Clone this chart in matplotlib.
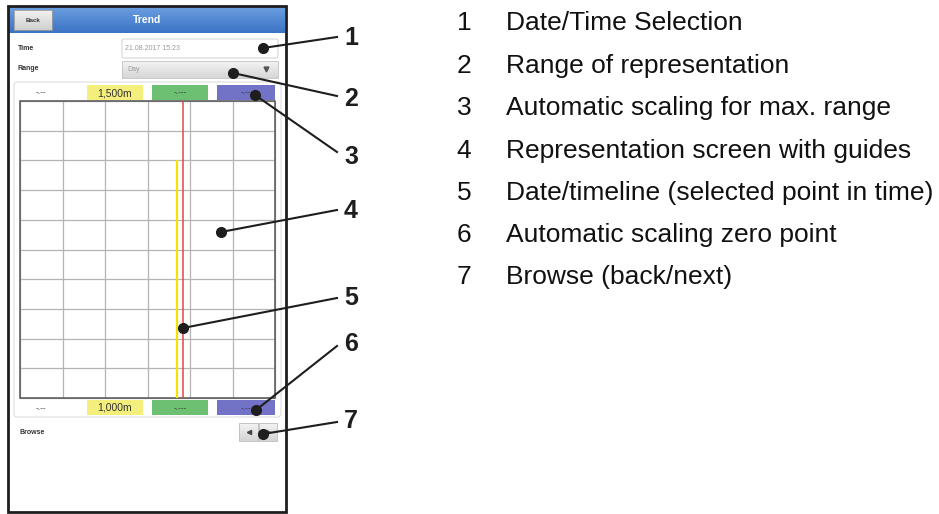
import numpy as np
import matplotlib.pyplot as plt
from matplotlib.patches import Rectangle, FancyBboxPatch

plt.rcParams['font.family'] = ['Liberation Sans', 'DejaVu Sans']

### DATA ###
legend_nums = ['1', '2', '3', '4', '5', '6', '7']
legend_text = ['Date/Time Selection',
               'Range of representation',
               'Automatic scaling for max. range',
               'Representation screen with guides',
               'Date/timeline (selected point in time)',
               'Automatic scaling zero point',
               'Browse (back/next)']
top_scale = ['-.--', '1,500m', '-.---', '-.--']
bottom_scale = ['-.--', '1,000m', '-.---', '-.--']
scale_colors = ['white', '#f4ee7c', '#6dbf72', '#7272c6']
time_value = '21.08.2017 15:23'
range_value = 'Day'
n_cols = 6
n_rows = 10

W, H = 939, 514
fig = plt.figure(figsize=(W / 100, H / 100), dpi=100)
ax = fig.add_axes([0, 0, 1, 1])
ax.set_xlim(0, W)
ax.set_ylim(H, 0)
ax.axis('off')

def grad(x0, x1, y0, y1, c_top, c_bot, z=1):
    g = np.linspace(0, 1, 50)[:, None]
    c0 = np.array(plt.matplotlib.colors.to_rgb(c_top))
    c1 = np.array(plt.matplotlib.colors.to_rgb(c_bot))
    img = c0[None, None, :] * (1 - g[:, :, None]) + c1[None, None, :] * g[:, :, None]
    ax.imshow(img, extent=(x0, x1, y1, y0), aspect='auto', zorder=z,
              interpolation='bilinear')

### PHONE FRAME ###
ax.add_patch(Rectangle((8, 6), 278, 506, fill=False, ec='#1e1e1e', lw=2, zorder=5))

# header
grad(9, 285, 7, 33, '#6a9ee0', '#3b73c4')
ax.text(147, 20, 'Trend', color='white', fontsize=7.5, fontweight='bold',
        ha='center', va='center', zorder=6)
grad(14, 52, 10, 30, '#f2f2f2', '#cfcfcf', z=2)
ax.add_patch(Rectangle((14, 10), 38, 20, fill=False, ec='#9a9a9a', lw=0.6, zorder=3))
ax.text(33, 20, 'Back', color='#333333', fontsize=4.5, fontweight='bold',
        ha='center', va='center', zorder=6)

# time / range
ax.text(18, 48, 'Time', fontsize=5, fontweight='bold', color='#333333', va='center')
ax.text(18, 69, 'Range', fontsize=5, fontweight='bold', color='#333333', va='center')
ax.add_patch(FancyBboxPatch((122, 39), 156, 19, boxstyle='round,pad=0,rounding_size=2',
                            fc='white', ec='#d0d0d0', lw=0.7))
ax.text(125, 48.5, time_value, fontsize=5, color='#9a9a9a', va='center')
grad(122, 278, 61, 78, '#f4f4f4', '#d6d6d6')
ax.add_patch(Rectangle((122, 61), 156, 17, fill=False, ec='#c0c0c0', lw=0.6, zorder=3))
ax.text(127, 69.5, range_value, fontsize=5, color='#9a9a9a', va='center', zorder=4)
ax.plot([266], [69], marker='v', ms=3.5, color='#555555', zorder=4)

# chart panel
ax.add_patch(FancyBboxPatch((14, 82), 267, 335, boxstyle='round,pad=0,rounding_size=3',
                            fc='white', ec='#dedede', lw=0.8))

box_x = [(20, 62), (87, 143), (152, 208), (217, 275)]
for (x0, x1), lab, col in zip(box_x, top_scale, scale_colors):
    ax.add_patch(Rectangle((x0, 85), x1 - x0, 15, fc=col, ec='none', zorder=2))
    ax.text((x0 + x1) / 2, 93, lab, fontsize=7.5 if 'm' in lab else 6,
            color='#333333', ha='center', va='center', zorder=3)
for (x0, x1), lab, col in zip(box_x, bottom_scale, scale_colors):
    ax.add_patch(Rectangle((x0, 400), x1 - x0, 15, fc=col, ec='none', zorder=2))
    ax.text((x0 + x1) / 2, 408, lab, fontsize=7.5 if 'm' in lab else 6,
            color='#333333', ha='center', va='center', zorder=3)

# grid
gx0, gx1, gy0, gy1 = 20, 275, 101, 398
ax.vlines(np.linspace(gx0, gx1, n_cols + 1), gy0, gy1, color='#b4b4b4', lw=0.9, zorder=2)
ax.hlines(np.linspace(gy0, gy1, n_rows + 1), gx0, gx1, color='#b4b4b4', lw=0.9, zorder=2)
ax.add_patch(Rectangle((gx0, gy0), gx1 - gx0, gy1 - gy0, fill=False, ec='#555555',
                       lw=1.1, zorder=3))
ax.vlines([183], gy0, gy1, color='#e04848', lw=1.1, zorder=3)
ax.vlines([177], 160, gy1, color='#f0e400', lw=1.6, zorder=3)

# browse
ax.text(19, 432, 'Browse', fontsize=5, fontweight='bold', color='#333333', va='center')
grad(239, 258, 423, 441, '#f4f4f4', '#d4d4d4')
grad(259, 277, 423, 441, '#f4f4f4', '#d4d4d4')
ax.add_patch(Rectangle((239, 423), 19, 18, fill=False, ec='#bbbbbb', lw=0.6, zorder=3))
ax.add_patch(Rectangle((259, 423), 18, 18, fill=False, ec='#bbbbbb', lw=0.6, zorder=3))
ax.plot([249], [432], marker='<', ms=3, color='#444444', zorder=4)
ax.plot([268], [432], marker='>', ms=3, color='#444444', zorder=4)

### CALLOUTS ###
dots = [(263, 48), (233, 73), (255, 95), (221, 232), (183, 328), (256, 410), (263, 434)]
ends = [(337, 37), (337, 96), (337, 152), (337, 210), (337, 298), (337, 346), (337, 422)]
num_y = [38, 99, 157, 211, 298, 344, 421]
for (dx, dy), (ex, ey), ny, n in zip(dots, ends, num_y, legend_nums):
    ax.plot([dx, ex], [dy, ey], color='#1e1e1e', lw=1.5, zorder=7)
    ax.plot([dx], [dy], 'o', ms=7, color='#1e1e1e', zorder=7)
    ax.text(351, ny, n, fontsize=18, fontweight='bold', color='#1e1e1e',
            ha='center', va='center', zorder=7)

### LEGEND ###
leg_y = [23, 66, 108, 151, 193, 235, 277]
for y, n, t in zip(leg_y, legend_nums, legend_text):
    ax.text(464, y, n, fontsize=19, color='#111111', ha='center', va='center')
    ax.text(506, y, t, fontsize=19, color='#111111', ha='left', va='center')

fig.savefig('out.png', dpi=100)
